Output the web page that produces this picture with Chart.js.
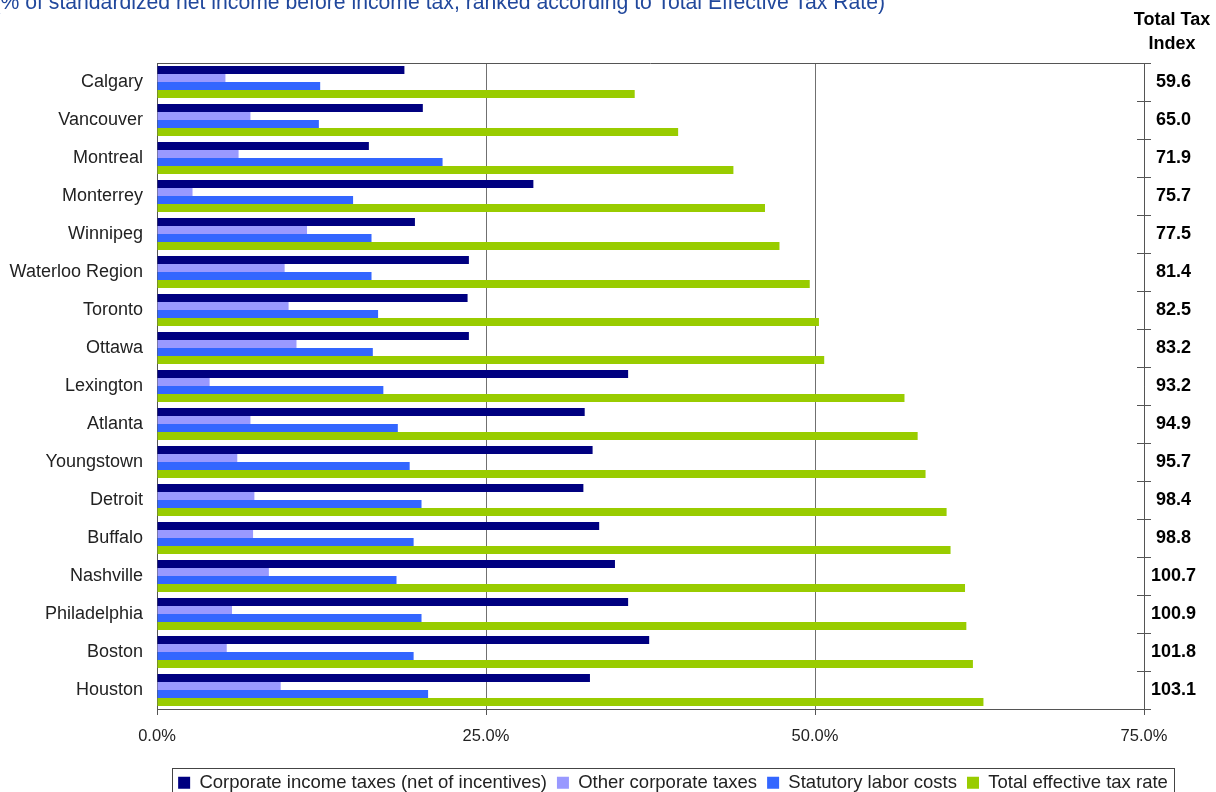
<!DOCTYPE html>
<html>
<head>
<meta charset="utf-8">
<script src="https://cdn.jsdelivr.net/npm/chart.js@4.4.0/dist/chart.umd.min.js"></script>
<style>
  body { margin: 0; background: #fff; overflow: hidden; }
  #wrap { position: relative; width: 1216px; height: 792px; overflow: hidden; }
  #subtitle { position: absolute; right: 331px; top: -9px; font: 21.2px/22px "Liberation Sans", Arial, sans-serif; color: #21489c; white-space: nowrap; }
  #indexHead { position: absolute; left: 1124px; top: 7px; width: 96px; text-align: center; font: bold 18px/24px "Liberation Sans", Arial, sans-serif; color: #000; }
</style>
</head>
<body>
<div id="wrap">
  <canvas id="chart" width="1216" height="802"></canvas>
  <div id="subtitle">(% of standardized net income before income tax, ranked according to Total Effective Tax Rate)</div>
  <div id="indexHead">Total Tax<br>Index</div>
</div>
<script>
// data //
const cities = ['Calgary', 'Vancouver', 'Montreal', 'Monterrey', 'Winnipeg', 'Waterloo Region', 'Toronto', 'Ottawa',
  'Lexington', 'Atlanta', 'Youngstown', 'Detroit', 'Buffalo', 'Nashville', 'Philadelphia', 'Boston', 'Houston'];
const corpIncomeTaxes = [18.8, 20.2, 16.1, 28.6, 19.6, 23.7, 23.6, 23.7, 35.8, 32.5, 33.1, 32.4, 33.6, 34.8, 35.8, 37.4, 32.9];
const otherCorpTaxes = [5.2, 7.1, 6.2, 2.7, 11.4, 9.7, 10.0, 10.6, 4.0, 7.1, 6.1, 7.4, 7.3, 8.5, 5.7, 5.3, 9.4];
const laborCosts = [12.4, 12.3, 21.7, 14.9, 16.3, 16.3, 16.8, 16.4, 17.2, 18.3, 19.2, 20.1, 19.5, 18.2, 20.1, 19.5, 20.6];
const totalRate = [36.3, 39.6, 43.8, 46.2, 47.3, 49.6, 50.3, 50.7, 56.8, 57.8, 58.4, 60.0, 60.3, 61.4, 61.5, 62.0, 62.8];
const totalTaxIndex = ['59.6', '65.0', '71.9', '75.7', '77.5', '81.4', '82.5', '83.2', '93.2', '94.9', '95.7', '98.4', '98.8',
  '100.7', '100.9', '101.8', '103.1'];
const xTicks = [0, 25, 50, 75];

const axisColor = '#555555';

// frame round the plot, inner half of the right ticks, box round the legend
const framePlugin = {
  id: 'frame',
  afterLayout(chart) {
    // legend sits a bit right of the page centre in the original
    chart.legend.left += 65;
    chart.legend.right += 65;
  },
  afterDraw(chart) {
    const ctx = chart.ctx;
    const a = chart.chartArea;
    ctx.save();
    ctx.strokeStyle = axisColor;
    ctx.lineWidth = 1;
    ctx.beginPath();
    ctx.moveTo(a.left, a.top + 0.5);
    ctx.lineTo(a.right, a.top + 0.5);
    const step = (a.bottom - a.top) / cities.length;
    for (let i = 0; i <= cities.length; i++) {
      const y = Math.round(a.top + i * step) + 0.5;
      ctx.moveTo(a.right - 7, y);
      ctx.lineTo(a.right, y);
    }
    ctx.stroke();

    const boxes = chart.legend.legendHitBoxes;
    if (boxes && boxes.length) {
      const left = Math.min(...boxes.map(b => b.left)) - 6;
      const right = Math.max(...boxes.map(b => b.left + b.width)) + 6;
      const top = boxes[0].top - 6;
      ctx.strokeStyle = '#444';
      ctx.strokeRect(Math.round(left) + 0.5, Math.round(top) + 0.5, Math.round(right - left), 60);
    }
    ctx.restore();
  }
};

new Chart('chart', {
  type: 'bar',
  data: {
    labels: cities,
    datasets: [
      { label: 'Corporate income taxes (net of incentives)', data: corpIncomeTaxes, backgroundColor: '#000080' },
      { label: 'Other corporate taxes', data: otherCorpTaxes, backgroundColor: '#9999ff' },
      { label: 'Statutory labor costs', data: laborCosts, backgroundColor: '#3366ff' },
      { label: 'Total effective tax rate', data: totalRate, backgroundColor: '#99cc00' }
    ]
  },
  options: {
    indexAxis: 'y',
    responsive: false,
    animation: false,
    categoryPercentage: 0.842,
    barPercentage: 1.0,
    layout: { padding: { top: 63, left: 0, right: 0, bottom: 0 } },
    plugins: {
      tooltip: { enabled: false },
      legend: {
        position: 'bottom',
        labels: {
          boxWidth: 12,
          boxHeight: 12,
          padding: 10,
          color: '#222',
          font: { family: 'Liberation Sans', size: 18.5 }
        }
      }
    },
    scales: {
      x: {
        min: 0,
        max: 75,
        afterBuildTicks: s => { s.ticks = xTicks.map(v => ({ value: v })); },
        afterFit: s => { s.height = 802 - s.chart.legend.height - 709; },
        grid: { color: '#707070', tickColor: axisColor, tickLength: 6 },
        border: { color: axisColor },
        ticks: {
          padding: 12,
          color: '#222',
          font: { family: 'Liberation Sans', size: 16.5 },
          callback: v => v.toFixed(1) + '%'
        }
      },
      y: {
        afterFit: s => { s.width = 157; },
        grid: { drawOnChartArea: false, drawTicks: false },
        border: { color: axisColor },
        ticks: {
          padding: 14,
          color: '#222',
          font: { family: 'Liberation Sans', size: 18 }
        }
      },
      y2: {
        type: 'category',
        position: 'right',
        labels: totalTaxIndex,
        offset: true,
        afterFit: s => { s.width = 72; },
        grid: { offset: true, drawOnChartArea: false, tickLength: 7, tickColor: axisColor },
        border: { color: axisColor },
        ticks: {
          padding: 0,
          crossAlign: 'center',
          color: '#000',
          font: { family: 'Liberation Sans', size: 18, weight: 'bold' }
        }
      }
    }
  },
  plugins: [framePlugin]
});
</script>
</body>
</html>
